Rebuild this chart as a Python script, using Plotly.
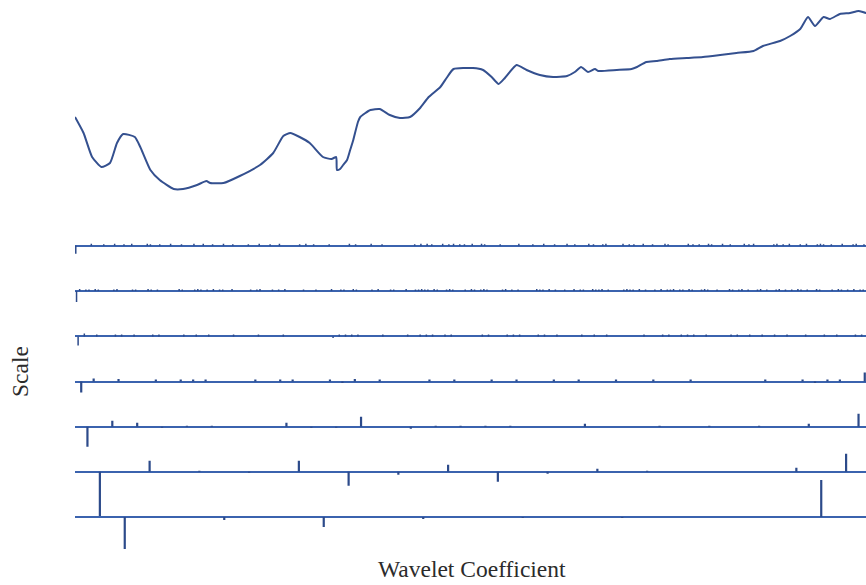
import plotly.graph_objects as go

# ---- spectrum (sample index vs. signal value) ----
spec_x = [0, 11, 22, 34, 45, 54, 62, 77, 84, 97, 109, 127, 139, 157, 169, 174, 191, 212, 238, 255,
          268, 277, 289, 302, 319, 330, 336, 337, 341, 345, 350, 354, 358, 364, 367, 380, 392, 405, 418, 431,
          444, 455, 470, 478, 487, 512, 525, 536, 545, 553, 568, 581, 598, 615, 633, 643, 651, 660, 669, 673,
          697, 716, 723, 735, 748, 765, 787, 808, 830, 851, 873, 885, 907, 920, 933, 943, 952, 963, 971, 984,
          997, 1008, 1018, 1024]
spec_y = [0.83, 0.67, 0.43, 0.33, 0.37, 0.57, 0.66, 0.63, 0.53, 0.30, 0.20, 0.11, 0.11, 0.15, 0.19, 0.17, 0.17, 0.24, 0.35, 0.47,
          0.64, 0.67, 0.63, 0.57, 0.43, 0.41, 0.43, 0.30, 0.31, 0.35, 0.40, 0.50, 0.60, 0.78, 0.83, 0.90, 0.91, 0.85, 0.82, 0.83,
          0.92, 1.03, 1.13, 1.22, 1.31, 1.32, 1.30, 1.23, 1.16, 1.22, 1.35, 1.30, 1.25, 1.23, 1.24, 1.28, 1.33, 1.28, 1.31, 1.29,
          1.30, 1.31, 1.33, 1.38, 1.39, 1.41, 1.42, 1.43, 1.45, 1.47, 1.49, 1.54, 1.59, 1.64, 1.71, 1.83, 1.74, 1.83, 1.81, 1.86,
          1.87, 1.89, 1.87, 1.88]

# ---- detail coefficients per decomposition level (sparse: index, value) ----
d1_idx = [0, 10, 18, 25, 31, 36, 46, 48, 54, 61, 68, 76, 82, 88, 95, 101, 111, 118, 125, 131, 144, 148, 153, 163,
          176, 180, 190, 197, 218, 222, 226, 229, 236, 240, 243, 247, 250, 255, 261, 263, 273, 285, 294, 301,
          308, 316, 321, 330, 333, 339, 341, 352, 356, 359, 365, 371, 379, 381, 394, 397, 401, 407, 409, 416,
          421, 430, 433, 436, 449, 451, 455, 459, 466, 470, 477, 479, 481, 486, 493, 500, 502, 507]
d1_val = [-0.16, 0.04, 0.03, 0.04, 0.03, 0.04, 0.04, 0.03, 0.03, 0.04, 0.03, 0.04, 0.04, 0.03, 0.04, 0.03, 0.03, 0.04, 0.03, 0.04,
          0.03, 0.04, 0.03, 0.03, 0.04, 0.03, 0.04, 0.03, 0.03, 0.04, 0.04, 0.03, 0.04, 0.03, 0.04, 0.03, 0.03, 0.04, 0.04, 0.03,
          0.03, 0.04, 0.03, 0.04, 0.03, 0.04, 0.03, 0.04, 0.03, 0.03, 0.04, 0.04, 0.03, 0.03, 0.04, 0.03, 0.04, 0.03, 0.04, 0.03,
          0.03, 0.04, 0.03, 0.04, 0.03, 0.04, 0.03, 0.04, 0.03, 0.04, 0.03, 0.04, 0.03, 0.04, 0.03, 0.04, 0.03, 0.03, 0.04, 0.03,
          0.04, 0.03]

d2_idx = [0, 1, 3, 4, 6, 7, 12, 13, 18, 19, 23, 24, 26, 33, 34, 38, 39, 40, 42, 44, 46, 47, 50, 56, 58, 59, 63, 65, 67,
          73, 77, 82, 85, 86, 89, 90, 95, 97, 101, 102, 106, 109, 110, 111, 112, 113, 115, 116, 119, 120, 121, 125,
          127, 128, 130, 131, 132, 137, 138, 140, 142, 148, 149, 150, 152, 154, 157, 160, 162, 163, 166, 167, 168,
          169, 171, 176, 177, 178, 179, 181, 183, 186, 188, 190, 191, 192, 194, 195, 197, 198, 201, 202, 203, 206,
          210, 211, 213, 214, 216, 219, 220, 222, 225, 226, 228, 230, 232, 233, 235, 238, 239, 243, 245, 246, 248,
          250, 252, 253]
d2_val = [-0.22] + [0.04 if i % 3 == 0 else 0.03 for i in range(len(d2_idx) - 1)]

d3_idx = [0, 1, 3, 6, 7, 9, 12, 13, 17, 19, 21, 25, 29, 33, 41, 42, 43, 44, 45, 49, 53, 55, 56, 57, 59, 60, 65, 66,
          69, 70, 71, 74, 75, 77, 81, 83, 85, 91, 94, 95, 97, 98, 99, 101, 105, 106, 108, 110, 112, 114, 117, 120,
          122, 125, 126]
d3_val = [-0.18, 0.06, 0.04, 0.04, 0.04, 0.04, 0.04, 0.04, 0.04, 0.04, 0.04, 0.04, 0.04, 0.04, -0.03, 0.04, 0.04, 0.04,
          0.04, 0.04, 0.04, 0.04, 0.04, 0.04, 0.04, 0.04, 0.04, 0.04, 0.04, 0.04, 0.04, 0.04, 0.04, 0.04, 0.04, 0.04,
          0.04, 0.04, 0.04, 0.04, 0.04, 0.04, 0.04, 0.04, 0.04, 0.04, 0.04, 0.04, 0.04, 0.04, 0.04, 0.04, 0.04, 0.04,
          0.04]

d4_idx = [0, 1, 3, 6, 8, 9, 10, 14, 16, 17, 20, 21, 22, 24, 28, 30, 33, 35, 38, 40, 43, 46, 49, 55, 58, 59, 60, 61, 63]
d4_val = [-0.22, 0.06, 0.05, 0.04, 0.04, 0.04, 0.04, 0.04, 0.04, 0.04, 0.04, -0.03, 0.05, 0.04, 0.04, 0.04, 0.04,
          0.04, 0.04, 0.04, 0.04, 0.04, 0.04, 0.04, 0.04, -0.03, 0.04, 0.04, 0.18]

d5_idx = [0, 1, 2, 3, 4, 5, 8, 9, 10, 11, 13, 14, 15, 16, 17, 20, 23, 25, 27, 29, 31]
d5_val = [-0.40, 0.12, 0.08, -0.02, 0.02, 0.02, 0.08, -0.02, -0.02, 0.20, -0.04, 0.02, 0.02, 0.02, 0.02,
          0.06, 0.02, 0.02, 0.02, 0.06, 0.26]

d6_idx = [0, 1, 2, 3, 4, 5, 6, 7, 8, 9, 10, 11, 14, 15]
d6_val = [-0.92, 0.22, 0.02, -0.02, 0.22, -0.28, -0.06, 0.14, -0.20, -0.04, 0.06, 0.02, 0.08, 0.36]

d7_idx = [0, 1, 2, 3, 4, 5, 7]
d7_val = [-0.64, -0.06, -0.20, -0.04, -0.02, -0.02, 0.74]

levels = [(1, d1_idx, d1_val), (2, d2_idx, d2_val), (3, d3_idx, d3_val), (4, d4_idx, d4_val),
          (5, d5_idx, d5_val), (6, d6_idx, d6_val), (7, d7_idx, d7_val)]

FIG_W, FIG_H = 866, 585
M_L, M_B = 75, 25
PLOT_H = FIG_H - M_B
X_END = 1017.6

SPEC_COLOR = "#34508f"
BASE_COLOR = "#3b63ae"
STEM_COLOR = "#2c4a8a"

fig = go.Figure()

fig.add_trace(go.Scatter(x=spec_x, y=spec_y, mode="lines",
                         line=dict(color=SPEC_COLOR, width=2, shape="spline", smoothing=0.5),
                         hoverinfo="skip", xaxis="x", yaxis="y"))

layout_axes = {}
layout_axes["yaxis"] = dict(domain=[1 - 200 / PLOT_H, 1], range=[0, 2], visible=False, fixedrange=True)

# baselines of each level row (px from the top of the plot area)
row_base = [245.8, 291.0, 336.4, 381.6, 426.7, 471.7, 517.0]
row_half = [50, 50, 50, 50, 50, 50, 42]

for n, (lev, idx, val) in enumerate(levels):
    step = 2 ** lev
    xs, ys = [], []
    for k, v in zip(idx, val):
        pos = (k + 0.5) * step
        xs += [pos, pos, None]
        ys += [0, v, None]
    ax_name = f"y{n + 2}"
    fig.add_trace(go.Scatter(x=xs, y=ys, mode="lines",
                             line=dict(color=STEM_COLOR, width=1.5 if lev <= 3 else 2.2),
                             hoverinfo="skip", xaxis="x", yaxis=ax_name))
    b, h = row_base[n], row_half[n]
    layout_axes[f"yaxis{n + 2}"] = dict(
        domain=[1 - (b + h) / PLOT_H, 1 - (b - h) / PLOT_H],
        range=[-h * 0.02, h * 0.02],
        showgrid=False, showticklabels=False, ticks="", showline=False,
        zeroline=True, zerolinecolor=BASE_COLOR, zerolinewidth=2.3 if lev >= 5 else 1.8,
        fixedrange=True,
    )

fig.update_layout(
    width=FIG_W, height=FIG_H,
    margin=dict(l=M_L, r=0, t=0, b=M_B),
    paper_bgcolor="white", plot_bgcolor="rgba(0,0,0,0)",
    showlegend=False,
    xaxis=dict(range=[0, X_END], visible=False, fixedrange=True),
    **layout_axes,
    annotations=[
        dict(text="Wavelet Coefficient", xref="paper", yref="paper",
             x=(472 - M_L) / (FIG_W - M_L), y=1 - 569 / PLOT_H,
             xanchor="center", yanchor="middle", showarrow=False,
             font=dict(family="Liberation Serif, serif", size=23.5, color="#2b2b2b")),
        dict(text="Scale", xref="paper", yref="paper",
             x=(20 - M_L) / (FIG_W - M_L), y=1 - 371 / PLOT_H, textangle=-90,
             xanchor="center", yanchor="middle", showarrow=False,
             font=dict(family="Liberation Serif, serif", size=23.5, color="#2b2b2b")),
    ],
)

fig.write_html("out.html")
